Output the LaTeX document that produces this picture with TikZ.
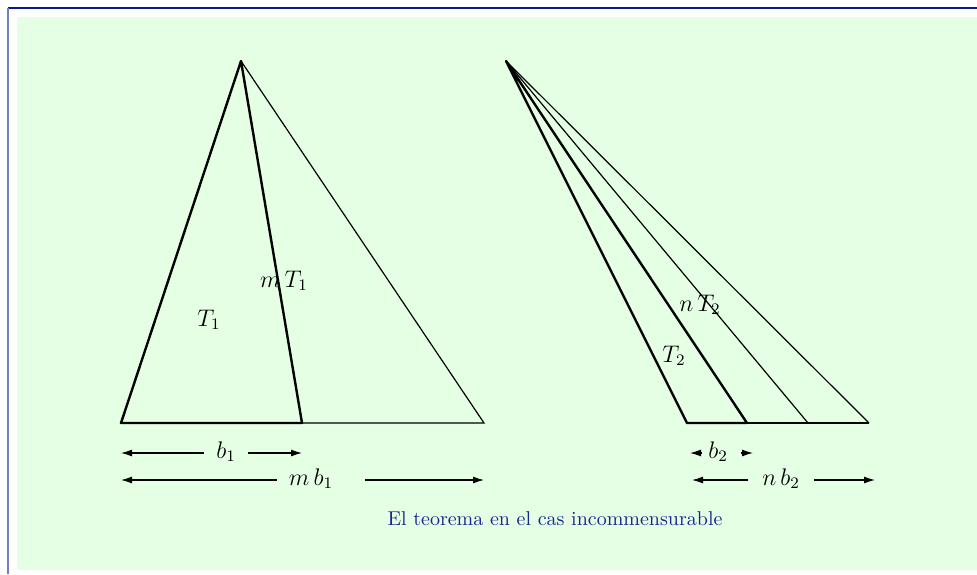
\documentclass[tikz,border=0pt]{standalone}
\usepackage{tikz}
\usetikzlibrary{arrows.meta}
\definecolor{paper}{HTML}{E5FFE5}
\definecolor{frameblue}{HTML}{0A1A8C}
\definecolor{sideblue}{HTML}{6F7FC8}
\definecolor{captblue}{HTML}{16268C}

\begin{document}
\begin{tikzpicture}[x=0.5pt, y=-0.5pt,
    thinline/.style={line width=0.6pt},
    thickline/.style={line width=1.2pt, line join=round},
    dim/.style={-{Latex[length=5.5pt, width=3.5pt]}, line width=0.6pt},
    lbl/.style={inner sep=0pt, anchor=base, font=\large},
    dimlbl/.style={inner ysep=0pt, inner xsep=6pt, anchor=base, font=\large}]
  \useasboundingbox (0,0) rectangle (977,574);
  % background and frame
  \fill[paper] (17,17) rectangle (977,570);
  \draw[frameblue, line width=1pt] (8,8) -- (977,8);
  \draw[sideblue, line width=0.6pt] (8,8) -- (8,574);
  % commensurable side: T_1 and m T_1
  \coordinate (A1) at (241,61);
  \coordinate (P1) at (121,423);
  \coordinate (Q1) at (302,423);
  \coordinate (R1) at (484,423);
  \draw[thinline] (A1) -- (R1) -- (Q1);
  \draw[thickline] (P1) -- (A1) -- (Q1) -- cycle;
  \node[lbl] (T1) at (209,326) {$T_1$};
  \node[lbl] (mT1) at (284,287) {$m\,T_1$};
  % incommensurable side: T_2 and n T_2
  \coordinate (A2) at (506,61);
  \coordinate (P2) at (687,423);
  \coordinate (Q2) at (747,423);
  \coordinate (R2) at (808,423);
  \coordinate (S2) at (869,423);
  \foreach \c in {R2,S2}
    \draw[thinline] (A2) -- (\c);
  \draw[thinline] (Q2) -- (S2);
  \draw[thickline] (P2) -- (A2) -- (Q2) -- cycle;
  \node[lbl] (T2) at (674,362) {$T_2$};
  \node[lbl] (nT2) at (700,311) {$n\,T_2$};
  % measures of the bases
  \coordinate (e1l) at (121,453);
  \coordinate (e1r) at (302,453);
  \coordinate (e2l) at (121,480);
  \coordinate (e2r) at (484,480);
  \coordinate (e3l) at (690,453);
  \coordinate (e3r) at (753,453);
  \coordinate (e4l) at (692,480);
  \coordinate (e4r) at (875,480);
  \node[dimlbl] (lb1) at (226,458) {$b_1$};
  \node[dimlbl] (lmb1) at (311,485) {$m\,b_1$};
  \node[dimlbl, inner xsep=3pt] (lb2) at (718,458) {$b_2$};
  \node[dimlbl, inner xsep=7pt] (lnb2) at (781,485) {$n\,b_2$};
  \draw[dim] (lb1.west |- e1l) -- (e1l);
  \draw[dim] (lb1.east |- e1r) -- (e1r);
  \draw[dim] (lmb1.west |- e2l) -- (e2l);
  \draw[dim, shorten <=10pt] (lmb1.east |- e2r) -- (e2r);
  \draw[dim] (lb2.west |- e3l) -- (e3l);
  \draw[dim, shorten <=3.5pt] (lb2.east |- e3r) -- (e3r);
  \draw[dim] (lnb2.west |- e4l) -- (e4l);
  \draw[dim] (lnb2.east |- e4r) -- (e4r);
  % caption
  \node[text=captblue, anchor=base] (capt) at (555,525)
    {El teorema en el cas incommensurable};
\end{tikzpicture}
\end{document}
